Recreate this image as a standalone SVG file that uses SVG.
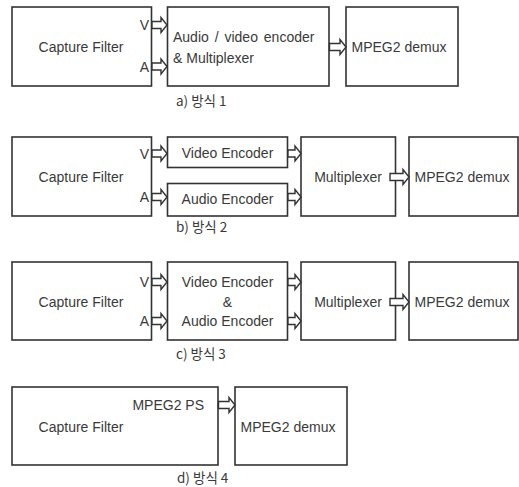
<svg xmlns="http://www.w3.org/2000/svg" width="519" height="487" viewBox="0 0 519 487">
<style>
.box{fill:#fff;stroke:#333;stroke-width:1.6}
.arr{fill:#fff;stroke:#333;stroke-width:1.4;stroke-linejoin:miter}
text{font-family:"Liberation Sans","Noto Sans CJK KR",sans-serif;font-size:14px;fill:#3a3a3a;dominant-baseline:central}
.c{text-anchor:middle}
.r{text-anchor:end}
.cap{font-family:"Noto Sans CJK KR","Liberation Sans",sans-serif;font-size:13.5px}
</style>
<rect width="519" height="487" fill="#fff"/>
<!-- a) -->
<g id="a-capture"><rect class="box" x="12" y="7" width="139.5" height="79"/><text class="c" x="81" y="47">Capture Filter</text><text class="r" x="149" y="25">V</text><text class="r" x="149" y="67">A</text></g>
<g id="a-encoder"><rect class="box" x="167.5" y="7" width="161.5" height="79"/><text x="173" y="37" word-spacing="2">Audio / video encoder</text><text x="173" y="58">&amp; Multiplexer</text></g>
<g id="a-demux"><rect class="box" x="346" y="7" width="112" height="79"/><text class="c" x="399" y="47">MPEG2 demux</text></g>
<text id="a-caption" class="cap" x="176" y="100">a) 방식 1</text>
<!-- b) -->
<g id="b-capture"><rect class="box" x="12" y="137" width="139.5" height="79"/><text class="c" x="81" y="177">Capture Filter</text><text class="r" x="149" y="154">V</text><text class="r" x="149" y="197">A</text></g>
<g id="b-video"><rect class="box" x="167.5" y="137" width="120" height="30.5"/><text class="c" x="227.5" y="153">Video Encoder</text></g>
<g id="b-audio"><rect class="box" x="167.5" y="183.5" width="120" height="32.5"/><text class="c" x="227.5" y="199">Audio Encoder</text></g>
<g id="b-mux"><rect class="box" x="301" y="137" width="94.5" height="79"/><text class="c" x="348" y="177">Multiplexer</text></g>
<g id="b-demux"><rect class="box" x="409" y="137" width="109" height="79"/><text class="c" x="462" y="177">MPEG2 demux</text></g>
<text id="b-caption" class="cap" x="176" y="226">b) 방식 2</text>
<!-- c) -->
<g id="c-capture"><rect class="box" x="12" y="262" width="139.5" height="78"/><text class="c" x="81" y="302">Capture Filter</text><text class="r" x="149" y="282">V</text><text class="r" x="149" y="321">A</text></g>
<g id="c-encoder"><rect class="box" x="167.5" y="262" width="120" height="78"/><text class="c" x="227.5" y="282">Video Encoder</text><text class="c" x="227.5" y="302">&amp;</text><text class="c" x="227.5" y="321">Audio Encoder</text></g>
<g id="c-mux"><rect class="box" x="301" y="262" width="94.5" height="78"/><text class="c" x="348" y="302">Multiplexer</text></g>
<g id="c-demux"><rect class="box" x="409" y="262" width="109" height="78"/><text class="c" x="462" y="302">MPEG2 demux</text></g>
<text id="c-caption" class="cap" x="176" y="353">c) 방식 3</text>
<!-- d) -->
<g id="d-capture"><rect class="box" x="12" y="387" width="206" height="78"/><text class="c" x="81" y="427">Capture Filter</text><text class="r" x="204" y="405">MPEG2 PS</text></g>
<g id="d-demux"><rect class="box" x="235" y="387" width="112" height="78"/><text class="c" x="288" y="427">MPEG2 demux</text></g>
<text id="d-caption" class="cap" x="177" y="477">d) 방식 4</text>
<!-- connectors -->
<g id="connectors">
<path class="arr" d="M152,21.5H161V17.5L167,25L161,32.5V28.5H152Z"/>
<path class="arr" d="M152,63H161V59L167,66.5L161,74V70H152Z"/>
<path class="arr" d="M329.5,43.5H340V39.5L346,47L340,54.5V50.5H329.5Z"/>
<path class="arr" d="M152,150H161V146L167,153.5L161,161V157H152Z"/>
<path class="arr" d="M152,193.5H161V189.5L167,197L161,204.5V200.5H152Z"/>
<path class="arr" d="M288,150H295V146L301,153.5L295,161V157H288Z"/>
<path class="arr" d="M288,193.5H295V189.5L301,197L295,204.5V200.5H288Z"/>
<path class="arr" d="M390,173.5H403V169.5L409,177L403,184.5V180.5H390Z"/>
<path class="arr" d="M152,278.5H161V274.5L167,282L161,289.5V285.5H152Z"/>
<path class="arr" d="M152,317.5H161V313.5L167,321L161,328.5V324.5H152Z"/>
<path class="arr" d="M288,278.5H295V274.5L301,282L295,289.5V285.5H288Z"/>
<path class="arr" d="M288,317.5H295V313.5L301,321L295,328.5V324.5H288Z"/>
<path class="arr" d="M390,298.5H403V294.5L409,302L403,309.5V305.5H390Z"/>
<path class="arr" d="M218.5,401.5H229V397.5L235,405L229,412.5V408.5H218.5Z"/>
</g>
</svg>
